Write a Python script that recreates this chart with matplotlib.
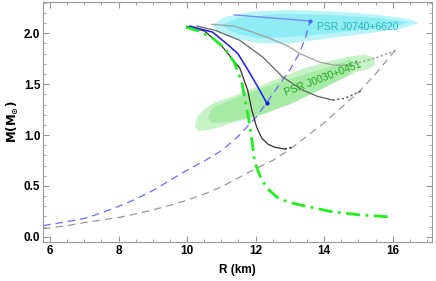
import numpy as np
import matplotlib
matplotlib.use('Agg')
import matplotlib.pyplot as plt
from matplotlib.ticker import MultipleLocator

plt.rcParams['font.family'] = ['Liberation Sans', 'DejaVu Sans']

# ---- data (R in km, M in solar masses) ----
green_R = [9.965, 10.37, 10.75, 11.10, 11.39, 11.60, 11.74, 11.83, 11.89, 11.98, 12.18, 12.36, 12.62, 12.94, 13.29, 14.25, 15.04, 15.91]
green_M = [2.059, 2.02, 1.951, 1.853, 1.706, 1.51, 1.265, 1.098, 0.95, 0.725, 0.559, 0.47, 0.39, 0.343, 0.314, 0.245, 0.216, 0.196]

black_R = [9.99, 10.52, 11.04, 11.54, 11.77, 11.89, 12.03, 12.18, 12.36, 12.56, 12.85]
black_M = [2.069, 2.02, 1.863, 1.657, 1.44, 1.245, 1.078, 0.97, 0.91, 0.88, 0.863]
black_dot_R = [12.85, 13.06]
black_dot_M = [0.863, 0.88]

blue_R = [10.08, 10.75, 11.25, 11.48, 11.74, 11.95, 12.12, 12.33]
blue_M = [2.07, 2.01, 1.87, 1.80, 1.66, 1.54, 1.44, 1.31]

dgray_R = [10.29, 10.81, 11.54, 12.21, 12.79, 13.38, 13.81, 14.25]
dgray_M = [2.07, 2.03, 1.93, 1.765, 1.57, 1.44, 1.38, 1.343]
dgray_dot_R = [14.25, 14.6, 15.13]
dgray_dot_M = [1.343, 1.36, 1.44]

lgray_R = [10.72, 11.39, 11.92, 12.41, 12.91, 13.29, 13.87, 14.31, 14.75]
lgray_M = [2.088, 2.069, 2.01, 1.95, 1.88, 1.80, 1.716, 1.686, 1.686]
lgray_dot_R = [14.75, 15.48, 16.12]
lgray_dot_M = [1.686, 1.755, 1.833]

top_R = [11.38, 13.59]
top_M = [2.18, 2.12]

bdash_R = [5.8, 6.5, 7.0, 7.5, 8.0, 8.5, 9.0, 9.5, 10.0, 10.5, 11.0, 11.5, 12.0, 12.31, 12.7, 13.0, 13.27, 13.45, 13.59]
bdash_M = [0.11, 0.15, 0.18, 0.235, 0.30, 0.37, 0.455, 0.555, 0.655, 0.745, 0.845, 0.99, 1.17, 1.31, 1.50, 1.64, 1.80, 1.95, 2.12]

gdash_R = [5.8, 6.5, 7.0, 7.5, 8.0, 8.5, 9.0, 9.5, 10.0, 10.5, 11.0, 11.5, 12.0, 12.5, 13.0, 13.5, 14.0, 14.5, 15.0, 15.5, 16.09]
gdash_M = [0.08, 0.11, 0.14, 0.165, 0.19, 0.225, 0.265, 0.31, 0.36, 0.42, 0.49, 0.58, 0.67, 0.75, 0.86, 0.99, 1.12, 1.27, 1.42, 1.60, 1.84]

# PSR J0740+6620 credible regions
j0740_out_R = [10.74, 11.09, 11.81, 12.98, 14.43, 15.59, 16.47, 16.76, 16.32, 15.30, 14.14, 12.98, 12.10, 11.38, 10.88]
j0740_out_M = [2.08, 2.16, 2.21, 2.23, 2.21, 2.18, 2.14, 2.10, 2.05, 2.00, 1.95, 1.90, 1.90, 1.95, 2.02]
j0740_in_R = [10.99, 11.51, 12.67, 14.12, 15.59, 16.47, 16.03, 14.72, 13.27, 12.10, 11.38]
j0740_in_M = [2.08, 2.15, 2.19, 2.18, 2.15, 2.11, 2.06, 2.02, 1.97, 1.95, 2.00]

# PSR J0030+0451 credible regions
j0030_out_R = [10.23, 10.29, 10.52, 10.81, 11.33, 12.32, 13.28, 14.06, 14.73, 15.17, 15.46, 15.49, 15.32, 14.94, 14.24, 13.28, 12.32, 11.33, 10.67, 10.32]
j0030_out_M = [1.08, 1.18, 1.26, 1.32, 1.38, 1.51, 1.64, 1.72, 1.77, 1.79, 1.76, 1.69, 1.65, 1.62, 1.51, 1.37, 1.21, 1.12, 1.05, 1.04]
j0030_in_R = [10.60, 10.75, 11.53, 12.41, 13.28, 14.15, 14.73, 14.90, 14.73, 13.86, 12.99, 12.12, 11.24, 10.72]
j0030_in_M = [1.17, 1.27, 1.38, 1.49, 1.58, 1.67, 1.74, 1.71, 1.59, 1.44, 1.30, 1.20, 1.13, 1.12]

fig, ax = plt.subplots(figsize=(4.36, 2.81), dpi=100)
fig.subplots_adjust(left=0.099, right=0.991, bottom=0.139, top=0.994)

ax.fill(j0740_out_R, j0740_out_M, color='#b8f4f8', lw=0, zorder=1)
ax.fill(j0740_in_R, j0740_in_M, color='#8eecf4', lw=0, zorder=1)
ax.fill(j0030_out_R, j0030_out_M, color='#c6f3c6', lw=0, zorder=1)
ax.fill(j0030_in_R, j0030_in_M, color='#a6eaa6', lw=0, zorder=1)

ax.plot(bdash_R, bdash_M, color='#6a6aff', lw=0.9, ls=(0, (6, 4)), zorder=2)
ax.plot(gdash_R, gdash_M, color='#999999', lw=0.9, ls=(0, (6, 4)), zorder=2)

ax.plot(lgray_R, lgray_M, color='#a0a0a0', lw=0.9, zorder=3)
ax.plot(lgray_dot_R, lgray_dot_M, color='#a0a0a0', lw=1.1, ls=(0, (1.5, 1.5)), zorder=3)
ax.plot(dgray_R, dgray_M, color='#666666', lw=0.9, zorder=3)
ax.plot(dgray_dot_R, dgray_dot_M, color='#666666', lw=1.1, ls=(0, (1.5, 1.5)), zorder=3)
ax.plot(black_R, black_M, color='#333333', lw=0.9, zorder=3)
ax.plot(black_dot_R, black_dot_M, color='#333333', lw=1.1, ls=(0, (1.5, 1.5)), zorder=3)
ax.plot(blue_R, blue_M, color='#1a1aee', lw=1.1, zorder=4)
ax.plot(blue_R[-1:], blue_M[-1:], 'o', color='#1a1aee', ms=2, zorder=4)
ax.plot(top_R, top_M, color='#7a8cff', lw=1.0, zorder=4)
ax.plot(top_R[-1:], top_M[-1:], 'o', color='#4a6aff', ms=2, zorder=4)
ax.plot(green_R, green_M, color='#22ee22', lw=2.0, ls=(0, (5, 2, 1, 2)), zorder=5)

ax.text(13.8, 2.06, 'PSR J0740+6620', color='#2ab5b8', fontsize=7.5, va='center', ha='left', zorder=6)
ax.text(13.96, 1.55, 'PSR J0030+0451', color='#1fa81f', fontsize=7.5, va='center', ha='center',
        rotation=21, zorder=6)

ax.set_xlim(5.8, 17.15)
ax.set_ylim(-0.05, 2.31)
ax.xaxis.set_major_locator(MultipleLocator(2))
ax.xaxis.set_minor_locator(MultipleLocator(0.5))
ax.yaxis.set_major_locator(MultipleLocator(0.5))
ax.yaxis.set_minor_locator(MultipleLocator(0.1))
ax.tick_params(which='both', direction='in', top=True, right=True, color='#999999',
               labeltop=False, labelright=False)
ax.tick_params(which='major', length=4, width=0.8, labelsize=8.5, pad=2)
ax.tick_params(which='minor', length=2, width=0.6)
for lab in ax.get_xticklabels() + ax.get_yticklabels():
    lab.set_fontweight('bold')
for s in ax.spines.values():
    s.set_color('#999999')
    s.set_linewidth(0.8)

ax.set_xlabel('R (km)', fontsize=8.5, fontweight='bold', labelpad=5)
ax.set_ylabel(r'$\mathbf{M(M_{\odot})}$', fontsize=8.5, labelpad=3)

plt.savefig('out.png', dpi=100)
plt.close()
